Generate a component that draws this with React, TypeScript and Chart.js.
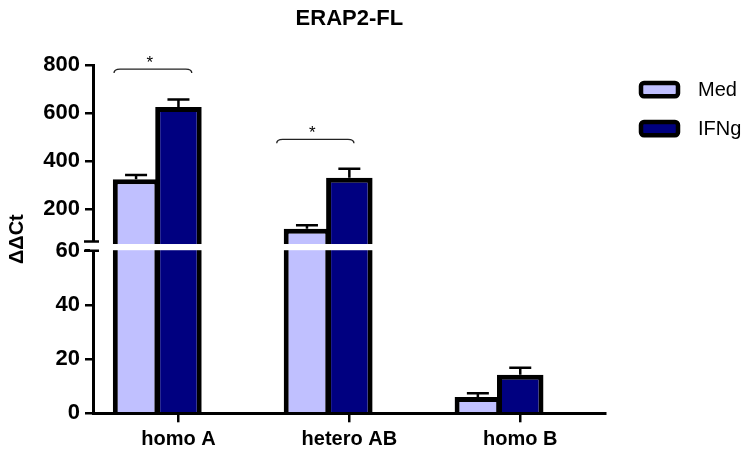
import React, { useEffect, useRef } from 'react';
import { Chart, registerables, LinearScale } from 'chart.js';

Chart.register(...registerables);

// ---------- data ----------
const categories = ['homo A', 'hetero AB', 'homo B'];
const seriesNames = ['Med', 'IFNg'];
const medValues = [325, 119, 6.0];
const medErrors = [18, 15, 1.4];
const ifngValues = [625, 331, 14.2];
const ifngErrors = [32, 38, 2.6];
const spacerValues = [null, null, null];
const yTicks = [0, 20, 40, 60, 200, 400, 600, 800];
const breakValue = 60;
const yMin = 0;
const yMax = 800;
const sigLabels = ['*', '*'];
const sigFrom = [-0.377, 0.575];
const sigTo = [0.078, 1.027];
const sigLevel = [783, 491];
const chartTitle = 'ERAP2-FL';
const yTitle = 'ΔΔCt';

// ---------- layout/style ----------
const FONT = "'Liberation Sans', Arial, sans-serif";
const LOWER_FRAC = 0.4668;
const GAP_FRAC = 0.0221;
const MED_COLOR = '#C0C0FF';
const IFNG_COLOR = '#000080';

class BrokenLinearScale extends LinearScale {
  static id = 'brokenLinear';
  buildTicks() {
    return yTicks.map((v) => ({ value: v }));
  }
  getPixelForValue(value: any) {
    if (value === null || value === undefined || isNaN(value)) return NaN;
    const h = this.bottom - this.top;
    const lowH = h * LOWER_FRAC;
    const upBottom = this.bottom - lowH - h * GAP_FRAC;
    if (value <= breakValue) {
      return this.bottom - ((value - yMin) / (breakValue - yMin)) * lowH;
    }
    return upBottom - ((value - breakValue) / (yMax - breakValue)) * (upBottom - this.top);
  }
  getValueForPixel(pixel: number) {
    const h = this.bottom - this.top;
    const lowH = h * LOWER_FRAC;
    const lowTop = this.bottom - lowH;
    const upBottom = lowTop - h * GAP_FRAC;
    if (pixel >= lowTop) return yMin + ((this.bottom - pixel) / lowH) * (breakValue - yMin);
    return breakValue + ((upBottom - pixel) / (upBottom - this.top)) * (yMax - breakValue);
  }
}
Chart.register(BrokenLinearScale as any);

const errorBarPlugin = {
  id: 'errorBars',
  afterDatasetsDraw(chart: any) {
    const ctx = chart.ctx;
    const yS = chart.scales.y;
    chart.data.datasets.forEach((ds: any, di: number) => {
      const errs = ds.errors;
      if (!errs) return;
      const meta = chart.getDatasetMeta(di);
      meta.data.forEach((bar: any, i: number) => {
        const v = ds.data[i];
        if (v === null || v === undefined) return;
        const top = yS.getPixelForValue(v + errs[i]);
        ctx.save();
        ctx.strokeStyle = '#000';
        ctx.lineWidth = 2.5;
        ctx.beginPath();
        ctx.moveTo(bar.x, bar.y);
        ctx.lineTo(bar.x, top);
        ctx.moveTo(bar.x - 11, top);
        ctx.lineTo(bar.x + 11, top);
        ctx.stroke();
        ctx.restore();
      });
    });
  },
};

const decorPlugin = {
  id: 'decor',
  afterDraw(chart: any) {
    const ctx = chart.ctx;
    const ca = chart.chartArea;
    const yS = chart.scales.y;
    const xS = chart.scales.x;
    const up = yS.getPixelForValue(breakValue + 1e-9);
    const low = yS.getPixelForValue(breakValue);
    const axisX = ca.left;
    ctx.save();
    // white break band over bars
    ctx.fillStyle = '#fff';
    ctx.fillRect(axisX + 2, up + 1, ca.right - axisX - 2, low - up - 1.5);
    // erase axis in the gap
    ctx.fillRect(axisX - 3, up - 1.5, 6, low - up + 1.5);
    // break marks
    ctx.strokeStyle = '#000';
    ctx.lineWidth = 2.5;
    ctx.beginPath();
    ctx.moveTo(axisX - 9, up - 1.5);
    ctx.lineTo(axisX + 6, up - 1.5);
    ctx.moveTo(axisX - 9, low);
    ctx.lineTo(axisX + 6, low);
    ctx.stroke();

    // significance brackets
    ctx.strokeStyle = '#222';
    ctx.lineWidth = 1.3;
    ctx.fillStyle = '#000';
    ctx.font = `17px ${FONT}`;
    ctx.textAlign = 'center';
    ctx.textBaseline = 'alphabetic';
    sigLabels.forEach((lab, i) => {
      const x1 = xS.getPixelForValue(sigFrom[i]);
      const x2 = xS.getPixelForValue(sigTo[i]);
      const yy = yS.getPixelForValue(sigLevel[i]);
      ctx.beginPath();
      ctx.moveTo(x1, yy + 4);
      ctx.quadraticCurveTo(x1, yy, x1 + 6, yy);
      ctx.lineTo(x2 - 6, yy);
      ctx.quadraticCurveTo(x2, yy, x2, yy + 4);
      ctx.stroke();
      ctx.fillText(lab, (x1 + x2) / 2 - 3, yy - 1);
    });

    // legend
    const bx = ca.right + 35.3;
    let by = ca.top + 18;
    ctx.font = `20px ${FONT}`;
    ctx.textAlign = 'left';
    ctx.textBaseline = 'middle';
    chart.data.datasets.forEach((ds: any) => {
      if (!ds.label) return;
      ctx.beginPath();
      if ((ctx as any).roundRect) (ctx as any).roundRect(bx, by, 37, 13.3, 3);
      else ctx.rect(bx, by, 37, 13.3);
      ctx.fillStyle = ds.backgroundColor;
      ctx.fill();
      ctx.lineWidth = 4.5;
      ctx.strokeStyle = '#000';
      ctx.stroke();
      ctx.fillStyle = '#000';
      ctx.fillText(ds.label, bx + 57, by + 7.5);
      by += 39;
    });
    ctx.restore();
  },
};

export default function App() {
  const ref = useRef<HTMLCanvasElement>(null);
  useEffect(() => {
    if (!ref.current) return;
    const chart = new Chart(ref.current, {
      type: 'bar',
      data: {
        labels: categories,
        datasets: [
          {
            label: seriesNames[0],
            data: medValues,
            errors: medErrors,
            backgroundColor: MED_COLOR,
            borderColor: '#000',
            borderWidth: 5,
            borderSkipped: 'start',
          } as any,
          {
            label: seriesNames[1],
            data: ifngValues,
            errors: ifngErrors,
            backgroundColor: IFNG_COLOR,
            borderColor: '#000',
            borderWidth: 5,
            borderSkipped: 'start',
          } as any,
          {
            label: '',
            data: spacerValues,
            backgroundColor: 'rgba(0,0,0,0)',
            borderWidth: 0,
          } as any,
        ],
      },
      options: {
        responsive: false,
        animation: false,
        events: [],
        devicePixelRatio: 1,
        datasets: { bar: { categoryPercentage: 0.744, barPercentage: 1.097 } } as any,
        layout: { padding: { left: 0, top: 0, bottom: 0, right: 140.3 } },
        plugins: {
          legend: { display: false },
          tooltip: { enabled: false },
          title: {
            display: true,
            text: chartTitle,
            fullSize: false,
            color: '#000',
            font: { family: FONT, size: 22, weight: 'bold' },
            padding: { top: 6, bottom: 32.6 },
          } as any,
        },
        scales: {
          x: {
            type: 'category',
            offset: true,
            grid: {
              offset: false,
              drawOnChartArea: false,
              drawTicks: true,
              tickLength: 9,
              lineWidth: 2.5,
              color: '#000',
            },
            border: { display: true, width: 3, color: '#000' },
            ticks: {
              color: '#000',
              font: { family: FONT, size: 20, weight: 'bold' },
              padding: 5,
              autoSkip: false,
              maxRotation: 0,
            },
            afterFit: (s: any) => {
              s.height = 39.7;
            },
          } as any,
          y: {
            type: 'brokenLinear',
            min: yMin,
            max: yMax,
            grid: {
              drawOnChartArea: false,
              drawTicks: true,
              tickLength: 8,
              lineWidth: 2.5,
              color: '#000',
            },
            border: { display: true, width: 3, color: '#000' },
            ticks: {
              color: '#000',
              font: { family: FONT, size: 22, weight: 'bold' },
              padding: 5,
              autoSkip: false,
              callback: (v: any) => String(v),
            },
            title: {
              display: true,
              text: yTitle,
              color: '#000',
              font: { family: FONT, size: 20, weight: 'bold' },
              padding: { top: 5.5, bottom: 0 },
            },
            afterFit: (s: any) => {
              s.width = 93;
            },
          } as any,
        },
      } as any,
      plugins: [errorBarPlugin, decorPlugin],
    });
    return () => chart.destroy();
  }, []);
  return (
    <div style={{ position: 'absolute', left: 0, top: 0, width: 746, height: 453, background: '#fff' }}>
      <canvas ref={ref} width={746} height={453} style={{ display: 'block' }} />
    </div>
  );
}
